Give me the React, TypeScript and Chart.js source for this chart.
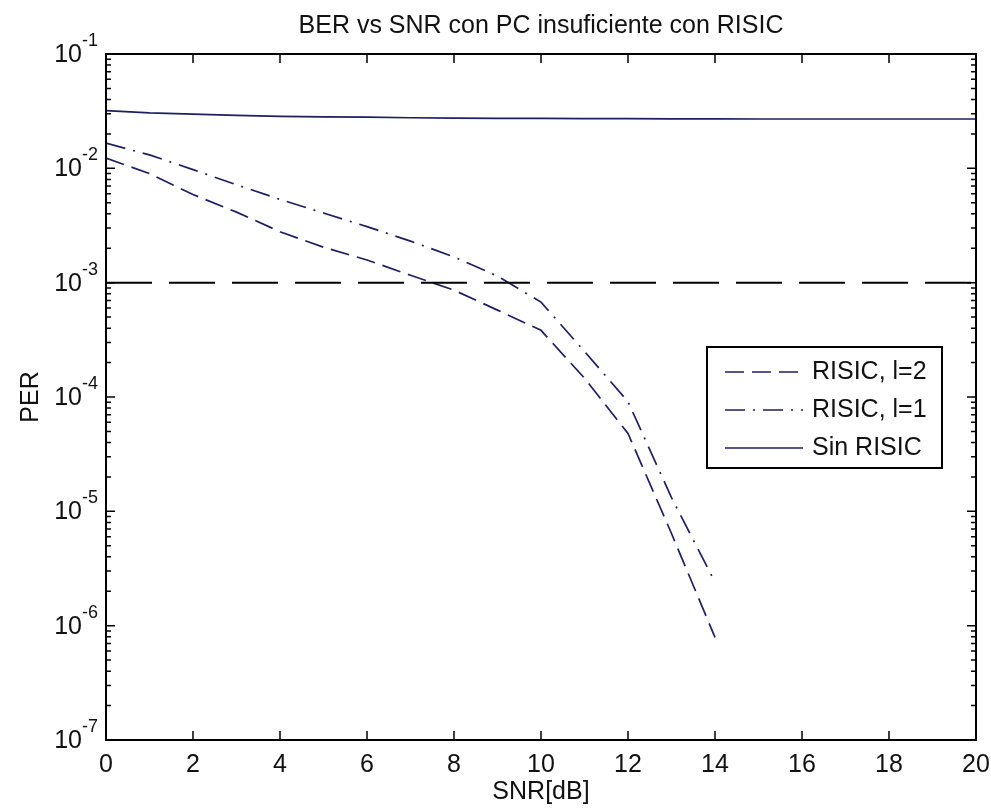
import React, { useEffect, useRef } from "react";
import { Chart, registerables } from "chart.js";

Chart.register(...registerables);

// ---- data ----
const titleText = "BER vs SNR con PC insuficiente con RISIC";
const xAxisTitle = "SNR[dB]";
const yAxisTitle = "PER";

const snrRisic = [0, 1, 2, 3, 4, 5, 6, 7, 8, 9, 10, 11, 12, 13, 14];
const perRisicL2 = [0.0123, 0.009, 0.0059, 0.00414, 0.00279, 0.00204, 0.00158, 0.00116, 0.00086, 0.000575, 0.000383, 0.000146, 0.000048, 0.0000064, 0.00000079];
const perRisicL1 = [0.0166, 0.0131, 0.00975, 0.00718, 0.00535, 0.00407, 0.00309, 0.00231, 0.00168, 0.00114, 0.000676, 0.00025, 0.000091, 0.0000132, 0.0000024];

const snrSin = [0, 1, 2, 3, 4, 5, 6, 7, 8, 9, 10, 11, 12, 13, 14, 15, 16, 17, 18, 19, 20];
const perSinRisic = [0.032, 0.0305, 0.0298, 0.029, 0.0285, 0.0282, 0.028, 0.0277, 0.0275, 0.0274, 0.0273, 0.0272, 0.0272, 0.0271, 0.0271, 0.027, 0.027, 0.027, 0.027, 0.027, 0.027];

const thresholdSnr = [0, 20];
const thresholdPer = [0.001, 0.001];

const seriesLabels = ["RISIC, l=2", "RISIC, l=1", "Sin RISIC"];
const xTickValues = [0, 2, 4, 6, 8, 10, 12, 14, 16, 18, 20];
const yExponents = [-7, -6, -5, -4, -3, -2, -1];

const FONT = "'Liberation Sans', Arial, sans-serif";
const LINE_COLOR = "#1e1e64";

const toPoints = (xs: number[], ys: number[]) => xs.map((x, i) => ({ x, y: ys[i] }));

const matlabPlugin = {
  id: "matlabDecor",
  afterDraw(chart: any) {
    const { ctx, chartArea: a } = chart;
    const x = chart.scales.x;
    const y = chart.scales.y;
    ctx.save();

    // inward ticks
    ctx.strokeStyle = "#000";
    ctx.lineWidth = 1.5;
    ctx.beginPath();
    for (const v of xTickValues) {
      const px = x.getPixelForValue(v);
      ctx.moveTo(px, a.bottom);
      ctx.lineTo(px, a.bottom - 9);
      ctx.moveTo(px, a.top);
      ctx.lineTo(px, a.top + 9);
    }
    for (const e of yExponents) {
      for (let m = 1; m <= 9; m++) {
        const val = m * Math.pow(10, e);
        if (val > 0.1 * 1.0001) continue;
        const py = y.getPixelForValue(val);
        const len = m === 1 ? 9 : 5;
        ctx.moveTo(a.left, py);
        ctx.lineTo(a.left + len, py);
        ctx.moveTo(a.right, py);
        ctx.lineTo(a.right - len, py);
      }
    }
    ctx.stroke();

    // axes box
    ctx.lineWidth = 2;
    ctx.strokeRect(a.left, a.top, a.right - a.left, a.bottom - a.top);

    // title
    ctx.fillStyle = "#111";
    ctx.font = `25px ${FONT}`;
    ctx.textAlign = "center";
    ctx.textBaseline = "middle";
    ctx.fillText(titleText, (a.left + a.right) / 2, a.top - 28);

    // y tick labels 10^e
    for (const e of yExponents) {
      const py = y.getPixelForValue(Math.pow(10, e));
      ctx.font = `25px ${FONT}`;
      ctx.textAlign = "right";
      ctx.textBaseline = "middle";
      ctx.fillText("10", a.left - 24, py + 1);
      ctx.font = `18px ${FONT}`;
      ctx.textAlign = "left";
      ctx.fillText(String(e), a.left - 24, py - 13);
    }

    // legend
    const bx = a.right - 269;
    const by = a.top + 293;
    const bw = 235;
    const bh = 121;
    ctx.fillStyle = "#fff";
    ctx.fillRect(bx, by, bw, bh);
    ctx.lineWidth = 2;
    ctx.strokeStyle = "#000";
    ctx.strokeRect(bx, by, bw, bh);
    const dsets = chart.data.datasets.filter((d: any) => seriesLabels.includes(d.label));
    dsets.forEach((d: any, i: number) => {
      const ry = by + 25 + i * 38;
      ctx.save();
      ctx.strokeStyle = d.borderColor;
      ctx.lineWidth = d.borderWidth;
      ctx.setLineDash(d.borderDash || []);
      ctx.beginPath();
      ctx.moveTo(bx + 18, ry);
      ctx.lineTo(bx + 96, ry);
      ctx.stroke();
      ctx.restore();
      ctx.fillStyle = "#111";
      ctx.font = `25px ${FONT}`;
      ctx.textAlign = "left";
      ctx.textBaseline = "middle";
      ctx.fillText(d.label, bx + 105, ry);
    });

    ctx.restore();
  },
};

export default function App() {
  const ref = useRef<HTMLCanvasElement | null>(null);

  useEffect(() => {
    if (!ref.current) return;
    const chart = new Chart(ref.current, {
      type: "line",
      data: {
        datasets: [
          {
            label: "threshold",
            data: toPoints(thresholdSnr, thresholdPer),
            borderColor: "#000",
            borderWidth: 2,
            borderDash: [46, 17],
            pointRadius: 0,
            fill: false,
          },
          {
            label: seriesLabels[0],
            data: toPoints(snrRisic, perRisicL2),
            borderColor: LINE_COLOR,
            borderWidth: 1.7,
            borderDash: [19, 8],
            pointRadius: 0,
            fill: false,
          },
          {
            label: seriesLabels[1],
            data: toPoints(snrRisic, perRisicL1),
            borderColor: LINE_COLOR,
            borderWidth: 1.7,
            borderDash: [20, 8, 2, 8],
            pointRadius: 0,
            fill: false,
          },
          {
            label: seriesLabels[2],
            data: toPoints(snrSin, perSinRisic),
            borderColor: LINE_COLOR,
            borderWidth: 1.7,
            pointRadius: 0,
            fill: false,
          },
        ],
      },
      options: {
        responsive: false,
        animation: false,
        layout: { padding: { top: 54, left: 0, right: 15, bottom: 0 } },
        plugins: {
          legend: { display: false },
          title: { display: false },
          tooltip: { enabled: false },
        },
        scales: {
          x: {
            type: "linear",
            min: 0,
            max: 20,
            afterFit: (s: any) => {
              s.height = 69;
              s.paddingLeft = 0;
              s.paddingRight = 0;
            },
            grid: { display: false, drawTicks: false },
            border: { display: false },
            ticks: {
              stepSize: 2,
              padding: 10,
              color: "#111",
              font: { family: FONT, size: 25 },
              maxRotation: 0,
            },
            title: {
              display: true,
              text: xAxisTitle,
              color: "#111",
              font: { family: FONT, size: 25 },
              padding: { top: 0, bottom: 2 },
            },
          },
          y: {
            type: "logarithmic",
            min: 1e-7,
            max: 1e-1,
            afterFit: (s: any) => {
              s.width = 106;
              s.paddingTop = 0;
              s.paddingBottom = 0;
            },
            grid: { display: false, drawTicks: false },
            border: { display: false },
            ticks: { display: false },
            title: {
              display: true,
              text: yAxisTitle,
              color: "#111",
              font: { family: FONT, size: 25 },
              padding: { top: 16, bottom: 0 },
            },
          },
        },
      },
      plugins: [matlabPlugin],
    });
    return () => chart.destroy();
  }, []);

  return (
    <div style={{ position: "fixed", left: 0, top: 0, width: 991, height: 809, background: "#fff" }}>
      <canvas ref={ref} width={991} height={809} />
    </div>
  );
}
